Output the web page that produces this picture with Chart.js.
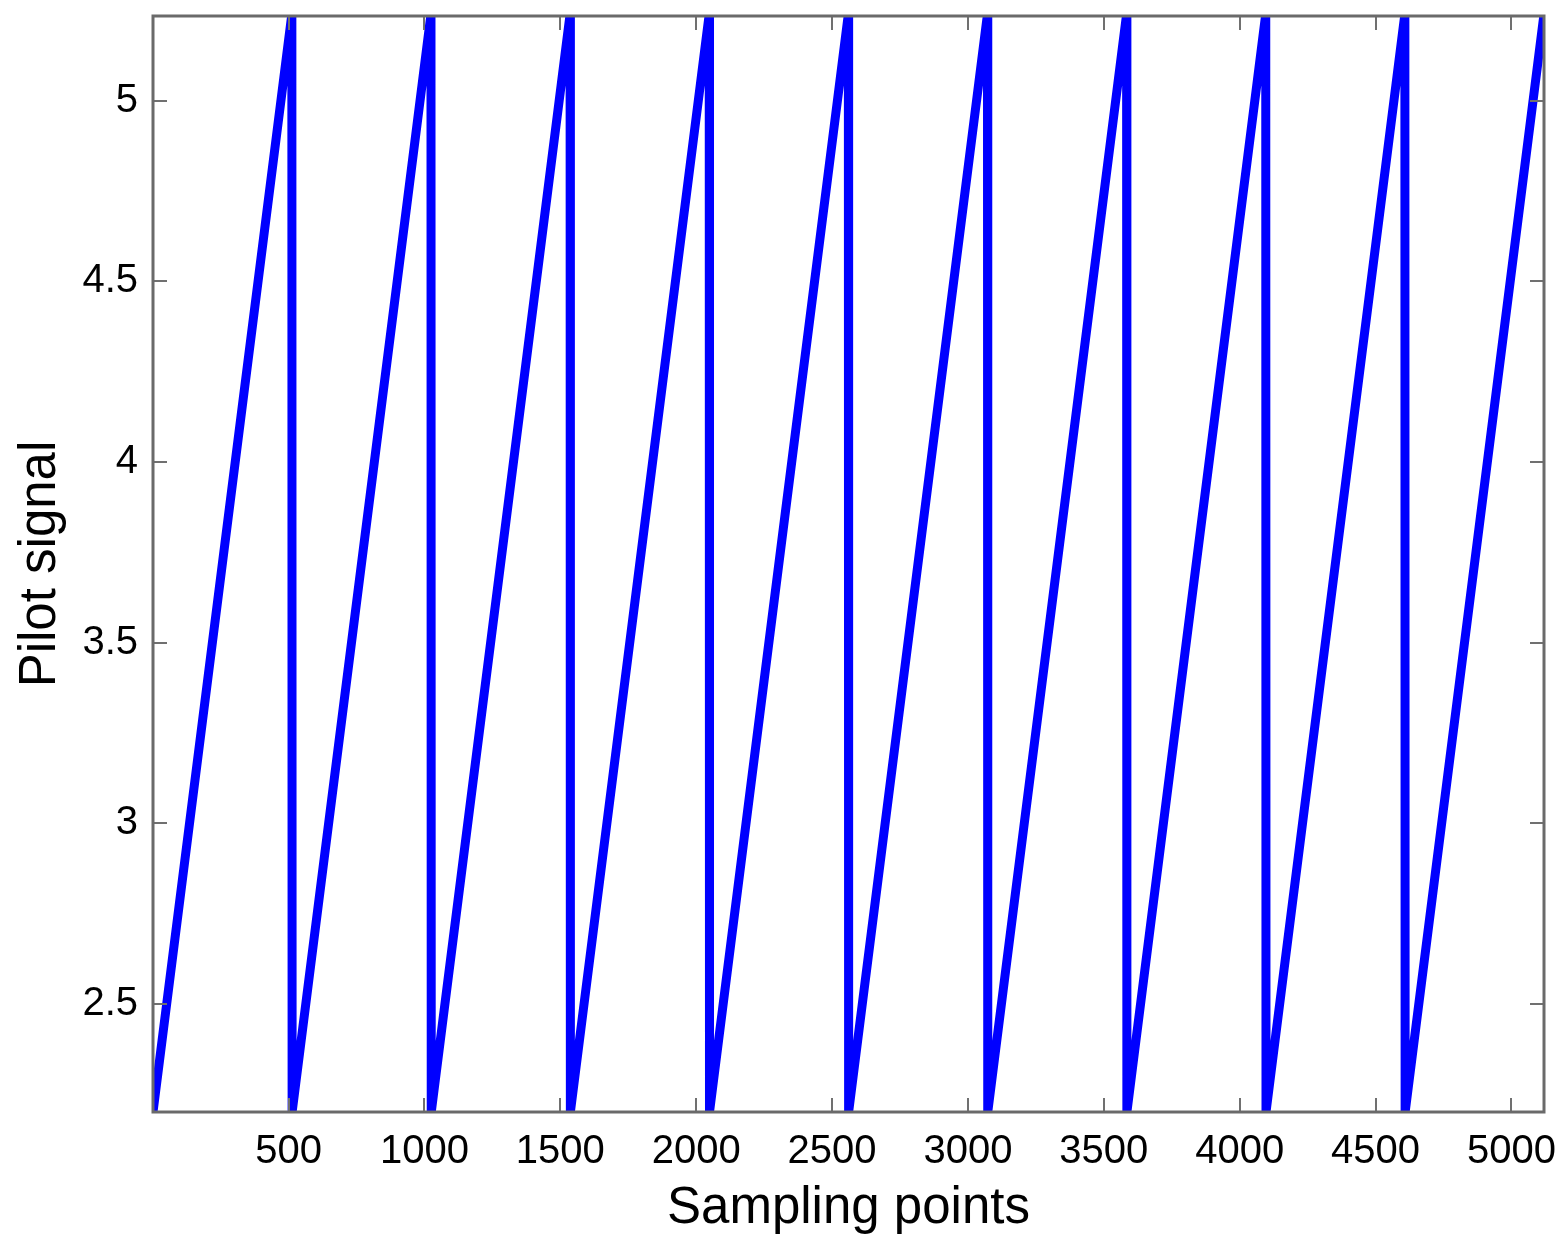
<!DOCTYPE html>
<html>
<head>
<meta charset="utf-8">
<script src="https://cdn.jsdelivr.net/npm/chart.js@4/dist/chart.umd.min.js"></script>
<style>
  body { margin: 0; background: #fff; }
  #wrap { width: 1565px; height: 1251px; }
</style>
</head>
<body>
<div id="wrap"><canvas id="pilot" width="1565" height="1251"></canvas></div>
<script>
// sawtooth corners (sample index, pilot value)
const samplePoints = [1, 512, 513, 1024, 1025, 1536, 1537, 2048, 2049, 2560,
  2561, 3072, 3073, 3584, 3585, 4096, 4097, 4608, 4609, 5120];
const pilotSignal = [2.2, 5.24, 2.2, 5.24, 2.2, 5.24, 2.2, 5.24, 2.2, 5.24,
  2.2, 5.24, 2.2, 5.24, 2.2, 5.24, 2.2, 5.24, 2.2, 5.24];

const xTicks = [500, 1000, 1500, 2000, 2500, 3000, 3500, 4000, 4500, 5000];
const yTicks = [2.5, 3, 3.5, 4, 4.5, 5];

const FONT = "'Liberation Sans', Arial, Helvetica, sans-serif";

// box around the axes plus inward tick marks on all four sides
const framePlugin = {
  id: "frame",
  afterDatasetsDraw(chart) {
    const { ctx, chartArea: a, scales } = chart;
    const len = 14;
    ctx.save();
    ctx.strokeStyle = "#707070";
    ctx.lineWidth = 2;
    ctx.beginPath();
    xTicks.forEach((v) => {
      const px = Math.round(scales.x.getPixelForValue(v));
      ctx.moveTo(px, a.bottom);
      ctx.lineTo(px, a.bottom - len);
      ctx.moveTo(px, a.top);
      ctx.lineTo(px, a.top + len);
    });
    yTicks.forEach((v) => {
      const py = Math.round(scales.y.getPixelForValue(v));
      ctx.moveTo(a.left, py);
      ctx.lineTo(a.left + len, py);
      ctx.moveTo(a.right, py);
      ctx.lineTo(a.right - len, py);
    });
    ctx.stroke();
    ctx.lineWidth = 3;
    ctx.strokeStyle = "#6a6a6a";
    ctx.strokeRect(a.left, a.top, a.right - a.left, a.bottom - a.top);
    ctx.restore();
  },
};

new Chart(document.getElementById("pilot"), {
  type: "line",
  data: {
    datasets: [
      {
        data: samplePoints.map((x, i) => ({ x, y: pilotSignal[i] })),
        borderColor: "#0000ff",
        borderWidth: 9,
        pointRadius: 0,
        tension: 0,
        fill: false,
        clip: 0,
      },
    ],
  },
  options: {
    responsive: false,
    animation: false,
    events: [],
    layout: { padding: { top: 16, right: 21, left: 0, bottom: 0 } },
    plugins: { legend: { display: false }, tooltip: { enabled: false } },
    scales: {
      x: {
        type: "linear",
        min: 1,
        max: 5120,
        afterBuildTicks: (s) => { s.ticks = xTicks.map((v) => ({ value: v })); },
        afterFit: (s) => {
          s.height = 139;
          s.paddingLeft = 0;
          s.paddingRight = 0;
        },
        grid: { display: false, drawTicks: false },
        border: { display: false },
        ticks: {
          color: "#000",
          padding: 16,
          maxRotation: 0,
          autoSkip: false,
          font: { family: FONT, size: 40 },
          callback: (v) => String(v),
        },
        title: {
          display: true,
          text: "Sampling points",
          color: "#000",
          font: { family: FONT, size: 51 },
          padding: { top: 0, bottom: 11 },
        },
      },
      y: {
        type: "linear",
        min: 2.2,
        max: 5.235,
        afterBuildTicks: (s) => { s.ticks = yTicks.map((v) => ({ value: v })); },
        afterFit: (s) => {
          s.width = 153;
          s.paddingTop = 0;
          s.paddingBottom = 0;
        },
        grid: { display: false, drawTicks: false },
        border: { display: false },
        ticks: {
          color: "#000",
          padding: 15,
          autoSkip: false,
          font: { family: FONT, size: 40 },
          callback: (v) => String(v),
        },
        title: {
          display: true,
          text: "Pilot signal",
          color: "#000",
          font: { family: FONT, size: 51 },
          padding: { top: 10, bottom: 0 },
        },
      },
    },
  },
  plugins: [framePlugin],
});
</script>
</body>
</html>
